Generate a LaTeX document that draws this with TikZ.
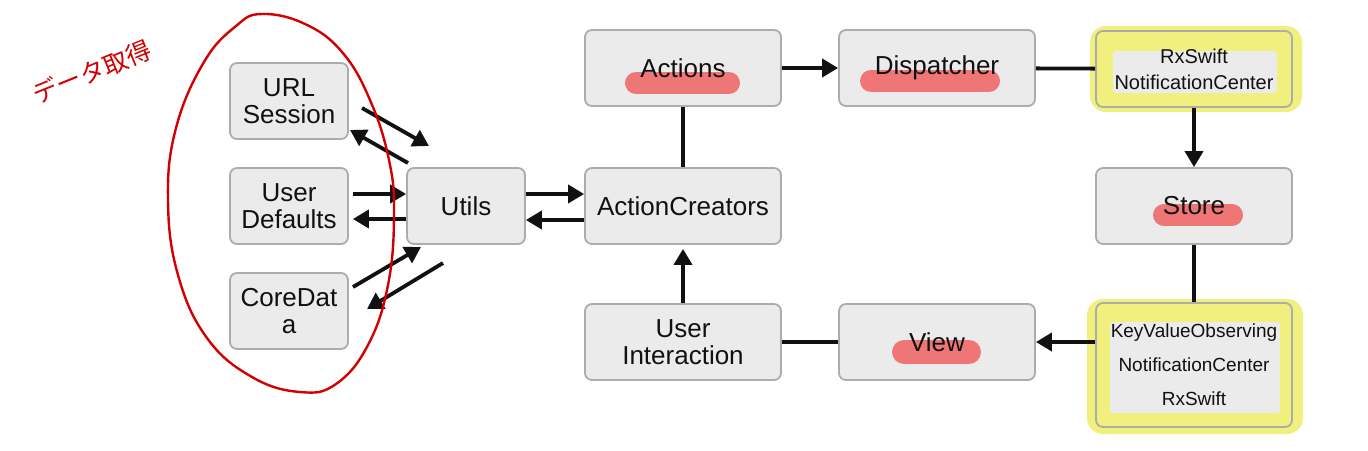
\documentclass[tikz,border=0pt]{standalone}
\usepackage{fontspec}
\setmainfont{Liberation Sans}
\newfontfamily\cjk{Noto Sans CJK JP}
\usetikzlibrary{arrows.meta,calc}
\definecolor{boxfill}{RGB}{235,235,235}
\definecolor{boxline}{RGB}{172,172,172}
\definecolor{hlred}{RGB}{238,118,118}
\definecolor{hlyellow}{RGB}{241,239,125}
\definecolor{pen}{RGB}{210,0,0}
\definecolor{ink}{RGB}{17,17,17}
\begin{document}
\begin{tikzpicture}[x=1pt,y=-1pt,
  box/.style={draw=boxline, fill=boxfill, line width=1.8pt, rounded corners=7pt,
    align=center, text=ink, inner sep=0pt, font=\fontsize{26}{27.5}\selectfont},
  small/.style={box, minimum width=118pt, minimum height=76pt},
  wide/.style={box, minimum width=196pt, minimum height=76pt},
  arr/.style={line width=3.8pt, draw=ink, -{Triangle[length=16pt,width=18pt]}},
  link/.style={line width=3.8pt, draw=ink},
  redmark/.style n args={4}{path picture={\draw[hlred, line width=#4, line cap=round]
    ($(path picture bounding box.center)+(#1,#3)$) -- ($(path picture bounding box.center)+(#2,#3)$);}},
  graypatch/.style n args={4}{path picture={\fill[boxfill, rounded corners=3pt]
    ($(path picture bounding box.center)+(#1,#3)$) rectangle ($(path picture bounding box.center)+(#2,#4)$);}},
  yblob/.style={fill=hlyellow, rounded corners=16pt},
  circ/.style={draw=pen, line width=2.4pt}
]
\useasboundingbox (0,0) rectangle (1368,450);

% handwritten note
\node[text=pen, rotate=22, font=\cjk\fontsize{25}{25}\selectfont] (memo) at (92,72) {データ取得};

% left column
\node[small] (url) at (289,101) {URL\\Session};
\node[small] (ud) at (289,206) {User\\Defaults};
\node[small] (cd) at (289,311) {CoreDat\\a};
\node[small] (utils) at (466,206) {Utils};

% center / right
\node[wide] (ac) at (683,206) {ActionCreators};
\node[wide, redmark={-47}{46}{15}{22pt}] (actions) at (683,68) {Actions};
\node[wide, redmark={-66}{52}{13}{22pt}] (disp) at (937,68) {Dispatcher};

\fill[yblob] (1090,26) rectangle (1302,112);
\node[wide, fill=hlyellow, graypatch={-81}{83}{-18}{24},
  font=\fontsize{20}{26}\selectfont] (rx) at (1194,69) {RxSwift\\NotificationCenter};

\node[wide, redmark={-30}{38}{9}{22pt}] (store) at (1194,206) {Store};

\fill[yblob] (1087,299) rectangle (1303,434);
\node[wide, minimum height=124pt, fill=hlyellow, graypatch={-84}{86}{-43}{48},
  font=\fontsize{19}{34}\selectfont] (kvo) at (1194,365) {KeyValueObserving\\NotificationCenter\\RxSwift};

\node[wide, redmark={-33}{32}{10}{24pt}] (view) at (937,342) {View};
\node[wide] (ui) at (683,342) {User\\Interaction};

% main flow
\draw[arr] (actions) -- (disp);
\draw[link] (disp) -- (rx);
\draw[arr] (rx) -- (store);
\draw[link] (store) -- (kvo);
\draw[arr] (kvo.west |- view.east) -- (view);
\draw[link] (view) -- (ui);
\draw[arr] (ui) -- ([yshift=-4pt]ac.south);
\draw[link] (ac) -- (actions);

% utils <-> action creators
\draw[arr] ([yshift=12pt]utils.east) -- ([yshift=12pt]ac.west);
\draw[arr] ([yshift=-14pt]ac.west) -- ([yshift=-14pt]utils.east);

% data sources <-> utils
\draw[arr] ([shift={(4pt,12pt)}]ud.east) -- ([yshift=12pt]utils.west);
\draw[arr] ([yshift=-13pt]utils.west) -- ([shift={(4pt,-13pt)}]ud.east);

\coordinate (u1s) at (362,108);
\coordinate (u1e) at (429,146);
\coordinate (u2s) at (408,163);
\coordinate (u2e) at (350,130);
\coordinate (c1s) at (353,287);
\coordinate (c1e) at (421,247);
\coordinate (c2s) at (443,263);
\coordinate (c2e) at (367,309);
\draw[arr] (u1s) -- (u1e);
\draw[arr] (u2s) -- (u2e);
\draw[arr] (c1s) -- (c1e);
\draw[arr] (c2s) -- (c2e);

% red hand-drawn loop
\draw[circ] plot[smooth cycle, tension=0.7] coordinates {
  (262,14) (305,24) (342,52) (370,100) (389,160) (394,215) (388,285)
  (368,345) (336,384) (300,392) (252,377) (207,338) (178,275) (168,200)
  (176,128) (204,62) (236,26)};
\end{tikzpicture}
\end{document}
